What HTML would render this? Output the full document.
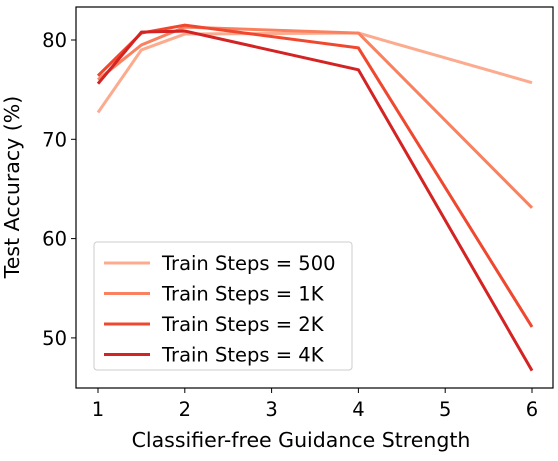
<!DOCTYPE html>
<html><head><meta charset="utf-8"><style>
body{margin:0;background:#fff;}
svg{display:block;font-family:"DejaVu Sans","Liberation Sans",sans-serif;}
</style></head><body>
<svg id="chart" width="558" height="461" viewBox="0 0 558 461">
<g id="lines"></g>
<rect x="76" y="7" width="477" height="381" fill="none" stroke="#000" stroke-width="1.2"/>
<g id="xt"></g>
<g id="yt"></g>
<text x="301" y="447" font-size="20.5" text-anchor="middle">Classifier-free Guidance Strength</text>
<text transform="translate(19,187) rotate(-90)" font-size="20.5" text-anchor="middle">Test Accuracy (%)</text>
<g id="legend"></g>
</svg>
<script>
const xs=[1,1.5,2,4,6];
const seriesNames=["Train Steps = 500","Train Steps = 1K","Train Steps = 2K","Train Steps = 4K"];
const s500=[72.7,79.0,80.6,80.7,75.7];
const s1k=[76.0,79.5,81.3,80.7,63.1];
const s2k=[76.4,80.7,81.5,79.2,51.1];
const s4k=[75.6,80.8,80.9,77.0,46.7];
const xTicks=[1,2,3,4,5,6];
const yTicks=[50,60,70,80];
const colors=["#fcab8f","#f9815f","#f0482f","#d42323"];
const NS="http://www.w3.org/2000/svg";
const X=v=>98+(v-1)*86.8;
const Y=v=>40+(80-v)*9.93;
function mk(t,a,p){const e=document.createElementNS(NS,t);for(const k in a)e.setAttribute(k,a[k]);p.appendChild(e);return e;}
const all=[s500,s1k,s2k,s4k];
const lg=document.getElementById('lines');
all.forEach((s,i)=>{
 const p=mk('polyline',{points:s.map((v,j)=>X(xs[j])+','+Y(v)).join(' '),fill:'none',stroke:colors[i],'stroke-width':3},lg);
 
 
});
const xt=document.getElementById('xt');
xTicks.forEach(v=>{
 mk('line',{x1:X(v),x2:X(v),y1:388,y2:393,stroke:'#000'},xt);
 const t=mk('text',{x:X(v),y:416,'font-size':19.5,'text-anchor':'middle'},xt);t.textContent=v;
 
 
});
const yt=document.getElementById('yt');
yTicks.forEach(v=>{
 mk('line',{x1:71,x2:76,y1:Y(v),y2:Y(v),stroke:'#000'},yt);
 const t=mk('text',{x:67,y:Y(v)+7,'font-size':19.5,'text-anchor':'end'},yt);t.textContent=v;
 
 
});
const lgd=document.getElementById('legend');
mk('rect',{x:94,y:242,width:258,height:128,rx:3,fill:'#fff','fill-opacity':0.85,stroke:'#ccc'},lgd);
seriesNames.forEach((n,i)=>{
 const y=263+i*30.5;
 mk('line',{x1:104,x2:150,y1:y,y2:y,stroke:colors[i],'stroke-width':3},lgd);
 const t=mk('text',{x:162,y:y+7,'font-size':19.5},lgd);t.textContent=n;
 
 
});
</script>
</body></html>
